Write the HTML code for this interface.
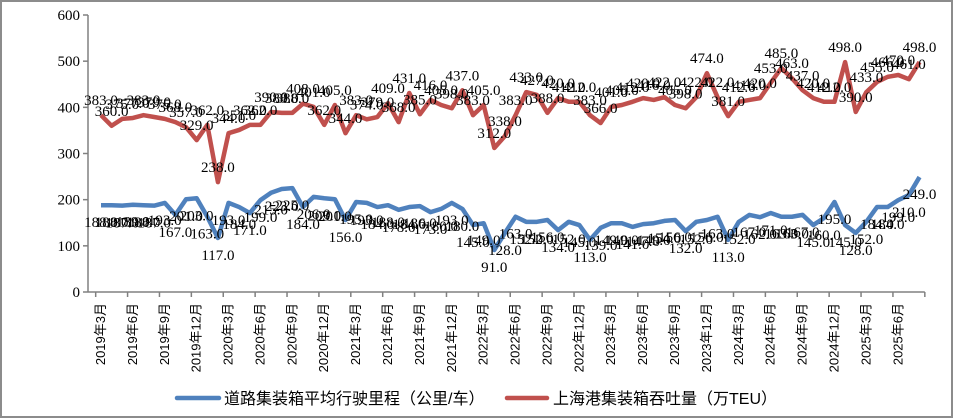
<!DOCTYPE html>
<html><head><meta charset="utf-8">
<style>
html,body{margin:0;padding:0;background:#fff;}
#wrap{position:relative;width:953px;height:419px;overflow:hidden;}
svg{position:absolute;left:0;top:0;}
</style></head>
<body>
<div id="wrap">
<svg id="chart" width="953" height="419" viewBox="0 0 953 419">
  <rect x="1" y="1" width="951" height="416" fill="#fff" stroke="#8c8c8c" stroke-width="2"/>
</svg>
</div>
<script>
const categories = [];
(function(){for(let y=2019,m=3,n=0;n<78;n++){categories.push(y+'年'+m+'月');m++;if(m>12){m=1;y++;}}})();
const tickLabels = ["0","100","200","300","400","500","600"];
const tickValues = [0,100,200,300,400,500,600];
const throughput = [383,360,375,377,383,379,375,368,357,329,362,238,344,351,362,362,390,388,388,408,401,362,405,344,383,374,379,409,368,431,385,416,405,398,437,383,405,312,338,383,433,427,388,420,412,412,383,366,401,405,412,420,416,422,405,398,422,474,422,381,412,416,420,453,485,463,437,420,412,412,498,390,433,455,466,470,461,498];
const mileage = [188,188,187,189,188,187,193,167,201,203,163,117,193,184,171,199,215,223,225,184,206,203,201,156,195,193,184,188,178,184,186,173,180,193,180,145,149,91,128,163,152,152,156,134,152,145,113,139,149,149,141,147,149,154,156,132,152,156,163,113,152,167,162,171,163,163,167,145,160,195,145,128,152,184,184,199,210,249];
const legendNames = ["道路集装箱平均行驶里程（公里/车）","上海港集装箱吞吐量（万TEU）"];

const svg = document.getElementById('chart');
const NS = 'http://www.w3.org/2000/svg';
const X0 = 101, DX = 10.63, Y0 = 292, YTOP = 15, VMAX = 600;
function xs(i){return X0 + DX*i;}
function ys(v){return Y0 - (v/VMAX)*(Y0-YTOP);}
function mk(tag, attrs){const e=document.createElementNS(NS,tag);for(const k in attrs)e.setAttribute(k,attrs[k]);svg.appendChild(e);return e;}

const ya = mk('line',{x1:88,y1:YTOP,x2:88,y2:Y0,stroke:'#808080','stroke-width':1.5});


const xa = mk('line',{x1:88,y1:Y0,x2:xs(categories.length-1)+5.3,y2:Y0,stroke:'#808080','stroke-width':1.5});


tickValues.forEach((v,k)=>{
  const t = mk('line',{x1:83,y1:ys(v),x2:88,y2:ys(v),stroke:'#808080','stroke-width':1.5});
  
  
  const l = mk('text',{x:80,y:ys(v)+5,'text-anchor':'end','font-size':15,'font-family':'Liberation Serif, serif',fill:'#000'});
  l.textContent = tickLabels[k];
  
  
});
for(let i=0;i<=categories.length;i+=3){
  const tx = xs(i)-DX/2;
  const t = mk('line',{x1:tx,y1:Y0,x2:tx,y2:Y0+5,stroke:'#808080','stroke-width':1.5});
  
  
}
for(let i=0;i<categories.length;i+=3){
  const x = xs(i)+4;
  const l = mk('text',{x:x,y:303,transform:'rotate(-90 '+x+' 303)','text-anchor':'end','font-size':13,'font-family':'Liberation Sans, Noto Sans CJK SC, sans-serif',fill:'#000'});
  l.textContent = categories[i];
  
  
}

function series(vals,color,name,dy){
  const p = mk('polyline',{points:vals.map((v,i)=>xs(i)+','+ys(v)).join(' '),fill:'none',stroke:color,'stroke-width':4.5,'stroke-linejoin':'round'});
  
  
  vals.forEach((v,i)=>{
    const l = mk('text',{x:xs(i),y:ys(v)+dy,'text-anchor':'middle','font-size':15,'font-family':'Liberation Serif, serif',fill:'#000'});
    l.textContent = v.toFixed(1);
    
    
  });
}
series(throughput,'#c0504d','throughput-line',-10);
series(mileage,'#4f81bd','mileage-line',22);

const lg1 = mk('line',{x1:177,y1:398,x2:219,y2:398,stroke:'#4f81bd','stroke-width':4.5,'stroke-linecap':'round'});


const lt1 = mk('text',{x:224,y:404,'font-size':16,'font-family':'Liberation Sans, Noto Sans CJK SC, sans-serif',fill:'#000'});
lt1.textContent = legendNames[0];


const lg2 = mk('line',{x1:507,y1:398,x2:547,y2:398,stroke:'#c0504d','stroke-width':4.5,'stroke-linecap':'round'});


const lt2 = mk('text',{x:553,y:404,'font-size':16,'font-family':'Liberation Sans, Noto Sans CJK SC, sans-serif',fill:'#000'});
lt2.textContent = legendNames[1];


</script>
</body></html>
